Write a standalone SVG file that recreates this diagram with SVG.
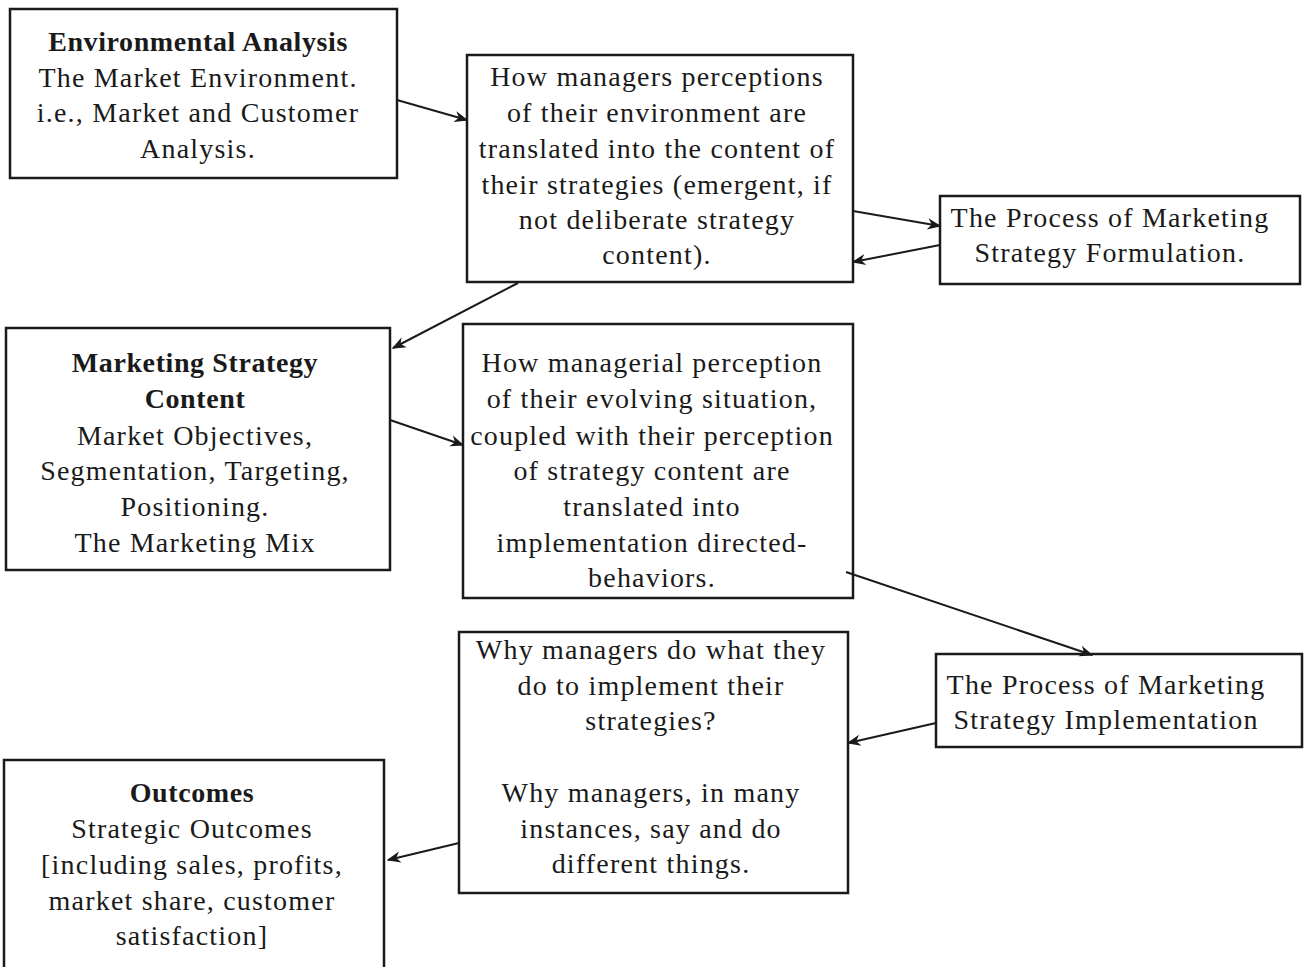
<svg xmlns="http://www.w3.org/2000/svg" width="1306" height="967" viewBox="0 0 1306 967">
<style>
.box{fill:#fff;stroke:#1a1a1a;stroke-width:2.5}
text{font-family:"Liberation Serif","Times New Roman",serif;font-size:28px;letter-spacing:1.2px;fill:#1a1a1a;text-anchor:middle}
.b{font-weight:bold;letter-spacing:0.6px}
.c{stroke:#1a1a1a;stroke-width:2;fill:none;marker-end:url(#ah)}
</style>
<defs>
<marker id="ah" viewBox="0 0 10 10" refX="9" refY="5" markerWidth="14" markerHeight="14" markerUnits="userSpaceOnUse" orient="auto"><path d="M0,1 L10,5 L0,9 L3,5 Z" fill="#1a1a1a"/></marker>
</defs>
<rect width="1306" height="967" fill="#fff"/>
<g id="n1"><rect class="box" x="10" y="9" width="387" height="169"/>
<text x="198" y="51" class="b">Environmental Analysis</text>
<text x="198" y="87">The Market Environment.</text>
<text x="198" y="122">i.e., Market and Customer</text>
<text x="198" y="158">Analysis.</text></g>
<g id="n2"><rect class="box" x="467" y="55" width="386" height="227"/>
<text x="657" y="86">How managers  perceptions</text>
<text x="657" y="122">of their environment are</text>
<text x="657" y="158">translated into the content of</text>
<text x="657" y="194">their strategies (emergent, if</text>
<text x="657" y="229">not deliberate strategy</text>
<text x="657" y="264">content).</text></g>
<g id="n3"><rect class="box" x="940" y="196" width="360" height="88"/>
<text x="1110" y="227">The Process of Marketing</text>
<text x="1110" y="262">Strategy Formulation.</text></g>
<g id="n4"><rect class="box" x="6" y="328" width="384" height="242"/>
<text x="195" y="372" class="b">Marketing Strategy</text>
<text x="195" y="408" class="b">Content</text>
<text x="195" y="445">Market Objectives,</text>
<text x="195" y="480">Segmentation, Targeting,</text>
<text x="195" y="516">Positioning.</text>
<text x="195" y="552">The Marketing Mix</text></g>
<g id="n5"><rect class="box" x="463" y="324" width="390" height="274"/>
<text x="652" y="372">How managerial perception</text>
<text x="652" y="408">of their evolving situation,</text>
<text x="652" y="445">coupled with their perception</text>
<text x="652" y="480">of strategy content are</text>
<text x="652" y="516">translated into</text>
<text x="652" y="552">implementation directed-</text>
<text x="652" y="587">behaviors.</text></g>
<g id="n6"><rect class="box" x="936" y="654" width="366" height="93"/>
<text x="1106" y="694">The Process of Marketing</text>
<text x="1106" y="729">Strategy Implementation</text></g>
<g id="n7"><rect class="box" x="459" y="632" width="389" height="261"/>
<text x="651" y="659">Why managers do what they</text>
<text x="651" y="695">do to implement their</text>
<text x="651" y="730">strategies?</text>
<text x="651" y="802">Why managers, in many</text>
<text x="651" y="838">instances, say and do</text>
<text x="651" y="873">different things.</text></g>
<g id="n8"><rect class="box" x="4" y="760" width="380" height="215"/>
<text x="192" y="802" class="b">Outcomes</text>
<text x="192" y="838">Strategic Outcomes</text>
<text x="192" y="874">[including sales, profits,</text>
<text x="192" y="910">market share, customer</text>
<text x="192" y="945">satisfaction]</text></g>
<g id="connectors">
<path class="c" d="M397,100 L467,120"/>
<path class="c" d="M853,211 L940,226"/>
<path class="c" d="M940,245 L853,262"/>
<path class="c" d="M518,283 L393,348"/>
<path class="c" d="M390,420 L463,445"/>
<path class="c" d="M846,572 L1092,655"/>
<path class="c" d="M936,723 L848,743"/>
<path class="c" d="M459,843 L388,860"/>
</g>
</svg>
